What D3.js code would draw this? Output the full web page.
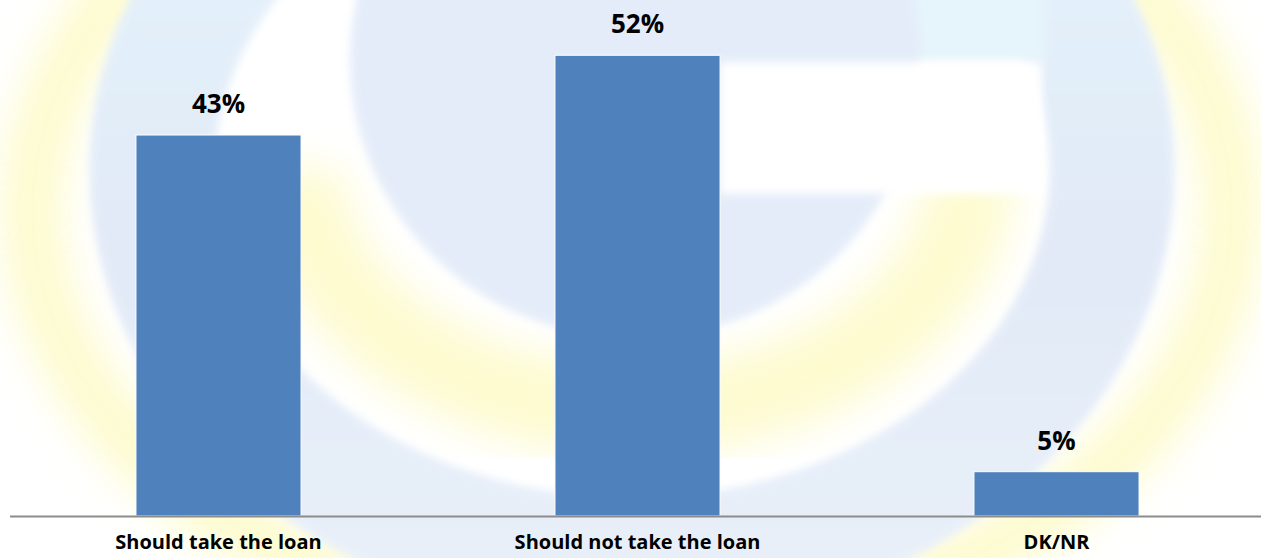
<!DOCTYPE html>
<html lang="en">
  <head>
    <meta charset="UTF-8" />
    <title>loan opinion</title>
    <style>
      body {
        margin: 0;
        background: #fff;
      }
      text {
        font-family: "Open Sans", Lato, sans-serif;
        font-weight: bold;
        fill: #000;
      }
    </style>
  </head>

  <body>
    <div class="container"></div>

    <script src="https://d3js.org/d3.v7.min.js"></script>
    <script>
      // data
      const categories = ["Should take the loan", "Should not take the loan", "DK/NR"];
      const values = [43, 52, 5];
      const valueLabels = ["43%", "52%", "5%"];

      const W = 1261,
        H = 558;

      const svg = d3
        .select(".container")
        .append("svg")
        .attr("width", W)
        .attr("height", H);

      // faint logo watermark behind the chart
      const defs = svg.append("defs");
      function blur(id, sd) {
        defs
          .append("filter")
          .attr("id", id)
          .attr("x", "-20%")
          .attr("y", "-20%")
          .attr("width", "140%")
          .attr("height", "140%")
          .append("feGaussianBlur")
          .attr("stdDeviation", sd);
      }
      blur("soft", 4);
      blur("glow", 20);
      const grad = defs
        .append("linearGradient")
        .attr("id", "ringGrad")
        .attr("x1", 0)
        .attr("y1", 0)
        .attr("x2", 0)
        .attr("y2", 1);
      grad.append("stop").attr("offset", "0%").attr("stop-color", "#dff2fb");
      grad.append("stop").attr("offset", "60%").attr("stop-color", "#dbe5f6");
      grad.append("stop").attr("offset", "100%").attr("stop-color", "#e3ecf8");

      const wm = svg.append("g").attr("opacity", 0.8);
      // yellow glow outside the ring
      wm.append("ellipse")
        .attr("cx", 632)
        .attr("cy", 210)
        .attr("rx", 600)
        .attr("ry", 420)
        .attr("fill", "none")
        .attr("stroke", "#fdfac0")
        .attr("stroke-width", 60)
        .attr("filter", "url(#glow)");
      // yellow band inside the ring
      wm.append("path")
        .attr("d", "M300,170 A335,240 0 0,0 970,170")
        .attr("fill", "none")
        .attr("stroke", "#fdfac4")
        .attr("stroke-width", 90)
        .attr("filter", "url(#glow)");
      // blue ring
      wm.append("ellipse")
        .attr("cx", 632)
        .attr("cy", 170)
        .attr("rx", 480)
        .attr("ry", 390)
        .attr("fill", "none")
        .attr("stroke", "url(#ringGrad)")
        .attr("stroke-width", 125)
        .attr("filter", "url(#soft)");
      // inner G
      wm.append("rect")
        .attr("x", 362)
        .attr("y", -20)
        .attr("width", 683)
        .attr("height", 82)
        .attr("fill", "#e0f2fb")
        .attr("filter", "url(#soft)");
      wm.append("ellipse")
        .attr("cx", 635)
        .attr("cy", 60)
        .attr("rx", 285)
        .attr("ry", 278)
        .attr("fill", "#dee8f8")
        .attr("filter", "url(#soft)");
      wm.append("rect")
        .attr("x", 720)
        .attr("y", 62)
        .attr("width", 322)
        .attr("height", 132)
        .attr("fill", "#fff")
        .attr("filter", "url(#soft)");

      // scales
      const x = d3
        .scaleBand()
        .domain(categories)
        .range([9, 1266])
        .paddingInner(0.606)
        .paddingOuter(0.303);
      const y = d3.scaleLinear().domain([0, 60]).range([516, -15.6]);

      // bars
      svg
        .selectAll("rect.bar")
        .data(values)
        .enter()
        .append("rect")
        .attr("class", "bar")
        .attr("x", (d, i) => x(categories[i]))
        .attr("y", (d) => y(d))
        .attr("width", x.bandwidth())
        .attr("height", (d) => y(0) - y(d))
        .attr("fill", "#4f81bd")
        .attr("stroke", "#fff")
        .attr("stroke-width", 1);

      // value labels
      svg
        .selectAll("text.val")
        .data(values)
        .enter()
        .append("text")
        .attr("class", "val")
        .attr("x", (d, i) => x(categories[i]) + x.bandwidth() / 2)
        .attr("y", (d) => y(d) - 22)
        .attr("text-anchor", "middle")
        .style("font-size", "26px")
        .text((d, i) => valueLabels[i]);

      // x axis
      const xAxis = svg
        .append("g")
        .attr("transform", `translate(0,${y(0)})`)
        .call(d3.axisBottom(x).tickSize(0).tickPadding(19));
      xAxis.select(".domain").attr("d", "M10,0.5H1261").attr("stroke", "#8c8c8c").attr("stroke-width", 2);
      xAxis.selectAll("text").style("font-size", "20px").attr("dy", "0.71em").attr("fill", "#000");
    </script>
  </body>
</html>
